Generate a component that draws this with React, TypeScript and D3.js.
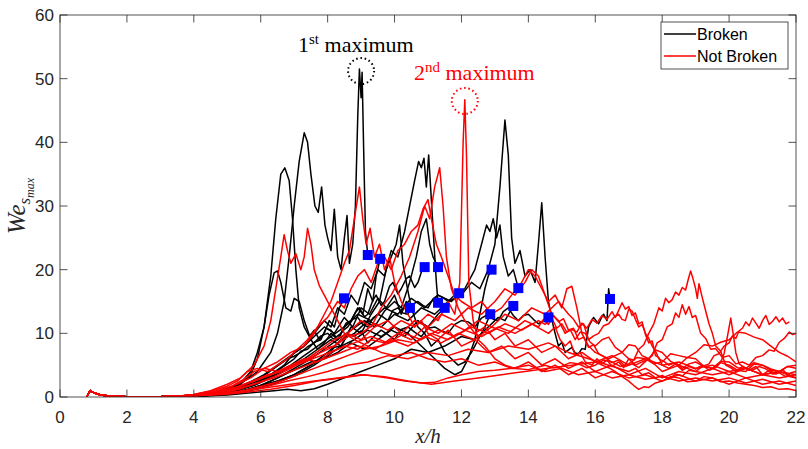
import * as d3 from "d3"

type Pt = [number, number]

// axis ticks
const xTicks = [0, 2, 4, 6, 8, 10, 12, 14, 16, 18, 20, 22]
const yTicks = [0, 10, 20, 30, 40, 50, 60]

// common start of every run (small bump at the inlet)
const lead: Pt[] = [[0.8, 0], [0.9, 1.0], [1.0, 0.7], [1.2, 0.35], [1.5, 0.1], [2.0, 0.02], [3.0, 0.05], [3.6, 0.15]]

// ---- Broken runs (end where the drop breaks) ----
const b01: Pt[] = [[4.0, 0.3], [4.5, 0.6], [5.0, 1.2], [5.4, 2.0], [5.7, 3.5], [5.9, 6], [6.1, 11], [6.3, 19], [6.45, 28], [6.6, 35], [6.72, 36], [6.85, 34], [6.95, 28], [7.05, 20], [7.15, 14], [7.3, 11], [7.45, 9.5], [7.6, 10.5], [7.75, 9], [7.9, 10], [8.05, 12], [8.2, 11], [8.35, 14], [8.49, 15.5]]
const b02: Pt[] = [[4.0, 0.3], [4.6, 0.8], [5.2, 1.6], [5.6, 2.8], [5.9, 4], [6.1, 5.5], [6.3, 7], [6.5, 10], [6.7, 15], [6.85, 22], [7.0, 30], [7.15, 37], [7.3, 41.5], [7.4, 40], [7.5, 35], [7.62, 30], [7.72, 29], [7.82, 33], [7.92, 27], [8.0, 25], [8.1, 23], [8.2, 29.5], [8.3, 22], [8.4, 20], [8.5, 25], [8.58, 28.5], [8.65, 21], [8.75, 24], [8.83, 30], [8.9, 44], [8.95, 51.5], [9.0, 47], [9.03, 51], [9.08, 38], [9.13, 26], [9.2, 22.3]]
const b03: Pt[] = [[4.0, 0.2], [4.5, 0.5], [5.0, 1.1], [5.4, 2.2], [5.7, 4], [5.9, 7], [6.1, 11], [6.25, 16], [6.4, 19.5], [6.5, 19.8], [6.6, 18], [6.75, 14], [6.9, 13.5], [7.0, 15.5], [7.15, 15], [7.3, 12], [7.5, 9], [7.7, 7.5], [7.9, 8.5], [8.1, 10], [8.3, 9], [8.5, 11], [8.7, 12], [8.9, 14], [9.05, 13], [9.2, 17], [9.35, 15], [9.45, 19], [9.57, 21.7]]
const b04: Pt[] = [[4.0, 0.2], [4.8, 0.6], [5.4, 1.5], [5.9, 2.5], [6.3, 3.5], [6.7, 5], [7.0, 7], [7.3, 8], [7.6, 10], [7.9, 12], [8.1, 11], [8.3, 14], [8.5, 13], [8.7, 16], [8.9, 14.5], [9.1, 18], [9.3, 17], [9.5, 20], [9.7, 19], [9.9, 23], [10.1, 22], [10.3, 26], [10.45, 30], [10.6, 34], [10.72, 37], [10.8, 36], [10.88, 37.5], [10.95, 33], [11.02, 38], [11.1, 31], [11.18, 24], [11.25, 18], [11.3, 14.8]]
const b05: Pt[] = [[4.0, 0.1], [4.8, 0.4], [5.5, 1.0], [6.0, 1.8], [6.5, 2.5], [7.0, 3.5], [7.5, 5], [8.0, 7], [8.4, 9], [8.8, 10], [9.2, 12], [9.6, 11], [10.0, 13], [10.4, 12], [10.8, 14], [11.2, 13], [11.6, 15], [12.0, 16], [12.3, 18], [12.55, 17], [12.8, 20], [13.0, 24], [13.15, 33], [13.3, 43.5], [13.4, 38], [13.5, 25], [13.6, 21], [13.75, 23], [13.9, 19], [14.05, 20], [14.2, 18], [14.3, 24], [14.4, 30.5], [14.5, 22], [14.6, 15], [14.75, 11], [14.9, 8], [15.0, 8.6], [15.1, 7], [15.2, 7.4], [15.3, 7.8], [15.4, 6.9], [15.5, 6.8], [15.6, 7.6], [15.7, 7.5], [15.8, 11], [15.95, 12.5], [16.05, 11.8], [16.1, 11.5], [16.2, 12.6], [16.25, 13], [16.35, 12], [16.4, 17], [16.44, 15.4]]
const b06: Pt[] = [[4.0, 0.2], [4.8, 0.5], [5.4, 1.2], [5.9, 2.2], [6.4, 3.5], [6.9, 5], [7.3, 6.5], [7.7, 8], [8.1, 9.5], [8.5, 11], [8.9, 13], [9.3, 12], [9.7, 14], [10.1, 13], [10.5, 15.5], [10.9, 14], [11.3, 16], [11.7, 15], [12.1, 17], [12.4, 20], [12.6, 24], [12.75, 27], [12.85, 26], [12.95, 28], [13.05, 25], [13.15, 27], [13.25, 22], [13.4, 19], [13.55, 20], [13.7, 17.1]]
const b07: Pt[] = [[4.0, 0.2], [4.7, 0.5], [5.3, 1.0], [5.8, 1.8], [6.3, 3], [6.8, 4.5], [7.3, 6], [7.7, 7.5], [8.1, 9], [8.4, 8], [8.7, 11], [9.0, 10], [9.3, 13], [9.55, 15], [9.75, 20], [9.9, 22], [10.05, 24], [10.15, 27], [10.25, 21], [10.35, 18], [10.5, 14], [10.7, 11], [10.9, 10], [11.1, 8], [11.3, 9], [11.5, 7], [11.7, 6], [11.9, 5], [12.1, 5.5], [12.3, 7], [12.5, 9], [12.7, 11], [12.86, 13]]
const b08: Pt[] = [[4.0, 0.1], [4.8, 0.3], [5.5, 0.8], [6.1, 1.5], [6.6, 2.5], [7.1, 3.5], [7.6, 5], [8.0, 6.5], [8.2, 7.8], [8.4, 8], [8.6, 9.8], [8.8, 9.5], [9.0, 10.4], [9.2, 8.5], [9.4, 9.6], [9.6, 10.5], [9.8, 9.8], [10.0, 9], [10.2, 10.6], [10.4, 11], [10.6, 10.2], [10.8, 9.5], [11.0, 10.8], [11.2, 11], [11.4, 10.4], [11.6, 10], [11.8, 11.4], [12.0, 12], [12.2, 11.8], [12.4, 11], [12.6, 12.4], [12.8, 13], [12.95, 12.2], [13.1, 12], [13.25, 13.4], [13.4, 14], [13.55, 12.8], [13.7, 12], [13.85, 12.8], [14.0, 13], [14.15, 12.2], [14.3, 11.5], [14.45, 12], [14.6, 12.5]]
const b09: Pt[] = [[4.0, 0.2], [4.6, 0.6], [5.2, 1.3], [5.7, 2.4], [6.1, 3.5], [6.5, 5], [6.9, 6.5], [7.3, 8], [7.6, 9.5], [7.9, 11], [8.2, 10], [8.5, 12.5], [8.75, 11], [9.0, 14], [9.25, 13], [9.5, 15.5], [9.75, 14], [10.0, 16], [10.2, 13], [10.35, 15], [10.46, 14.0]]
const b10: Pt[] = [[4.0, 0.2], [4.7, 0.5], [5.3, 1.1], [5.8, 2], [6.2, 3.2], [6.6, 4.5], [7.0, 6], [7.2, 7.2], [7.4, 7.5], [7.6, 8.6], [7.8, 9], [7.95, 10.8], [8.1, 10.5], [8.25, 9.4], [8.4, 10], [8.55, 11.6], [8.7, 12], [8.85, 13.4], [8.95, 14], [9.1, 12.6], [9.2, 13], [9.35, 15.2], [9.45, 16], [9.6, 14.4], [9.7, 15], [9.85, 17.4], [9.95, 18], [10.1, 16.2], [10.2, 17], [10.35, 18.6], [10.45, 19], [10.6, 17.2], [10.7, 18], [10.8, 19.6], [10.9, 20.4]]
const b11: Pt[] = [[4.0, 0.2], [4.9, 0.5], [5.5, 1.0], [6.0, 1.8], [6.5, 3], [7.0, 4.5], [7.5, 6], [7.9, 7.5], [8.3, 9], [8.7, 10.5], [9.1, 12], [9.4, 11], [9.7, 13.5], [10.0, 15], [10.2, 14], [10.45, 18], [10.65, 22], [10.8, 26], [10.95, 28], [11.05, 24], [11.15, 22], [11.3, 20.4]]
const b12: Pt[] = [[4.0, 0.1], [4.8, 0.4], [5.4, 0.9], [5.9, 1.6], [6.3, 2.5], [6.7, 3.5], [7.1, 4.5], [7.5, 5.5], [7.9, 6], [8.3, 7], [8.7, 8.5], [9.1, 7.5], [9.5, 9], [9.9, 10.5], [10.3, 9.5], [10.7, 12], [11.0, 11], [11.3, 13], [11.5, 14]]
const b13: Pt[] = [[4.0, 0.2], [4.6, 0.5], [5.1, 1.0], [5.6, 2], [6.0, 3], [6.4, 4.5], [6.8, 6], [7.0, 6.4], [7.2, 7], [7.4, 7.9], [7.6, 8.5], [7.8, 9.6], [8.0, 10], [8.15, 9.2], [8.3, 9], [8.45, 10.4], [8.6, 11], [8.75, 12.2], [8.9, 12.5], [9.05, 11.4], [9.2, 11], [9.35, 12.4], [9.5, 13], [9.65, 12.6], [9.8, 12], [9.95, 13.6], [10.1, 14], [10.25, 13.2], [10.4, 13], [10.55, 14.6], [10.7, 15], [10.85, 14.4], [11.0, 14], [11.15, 15.4], [11.3, 16], [11.45, 15.6], [11.6, 15], [11.75, 15.8], [11.93, 16.3]]
const b14: Pt[] = [[4.0, 0.1], [4.8, 0.4], [5.4, 0.9], [6.0, 1.5], [6.5, 2.5], [7.0, 3.5], [7.5, 5], [8.0, 6.5], [8.4, 8], [8.8, 9], [9.2, 10.5], [9.6, 9.5], [10.0, 11], [10.4, 10], [10.8, 8], [11.2, 6], [11.5, 4.5], [11.8, 3.5], [12.0, 4], [12.2, 6], [12.4, 9], [12.55, 13], [12.7, 17], [12.8, 19], [12.9, 20]]
const b15: Pt[] = [[4.0, 0.1], [5.0, 0.3], [5.8, 0.7], [6.4, 1.0], [6.8, 1.2], [7.2, 1.0], [7.6, 1.3], [8.0, 2], [8.5, 3], [9.0, 4], [9.5, 5], [10.0, 6], [10.5, 7.5], [11.0, 7], [11.5, 8], [12.0, 9.5], [12.4, 9], [12.8, 11], [13.1, 12.5], [13.3, 12], [13.55, 14.3]]

// ---- Not broken runs ----
const r01: Pt[] = [[4.0, 0.4], [4.5, 1.0], [5.0, 2.0], [5.4, 3], [5.8, 5], [6.1, 8], [6.3, 12], [6.45, 17], [6.6, 22], [6.7, 25.5], [6.8, 23], [6.9, 21], [7.05, 22.5], [7.2, 20], [7.3, 22], [7.4, 26.5], [7.5, 24], [7.6, 20], [7.75, 17.5], [7.9, 16], [8.1, 14], [8.3, 12], [8.5, 10], [8.8, 9], [9.2, 8], [9.6, 7], [10.0, 6.5], [10.5, 7], [11.0, 6], [11.5, 5.5], [12.0, 6], [12.5, 5], [13.0, 5.5], [13.5, 4.5], [14.0, 5], [14.5, 4], [15.0, 4.5], [15.5, 3.5], [16.0, 4], [16.5, 3], [17.0, 3.5], [17.5, 2.8], [18.0, 3.2], [18.5, 2.5], [19.0, 3], [19.5, 2.5], [20.0, 3], [20.5, 2.2], [21.0, 2.8], [21.5, 2], [22.0, 2.5]]
const r02: Pt[] = [[4.0, 0.3], [4.6, 0.8], [5.2, 1.8], [5.7, 3], [6.1, 4.5], [6.5, 5.5], [6.9, 7], [7.3, 8], [7.6, 10], [7.9, 13], [8.1, 15], [8.3, 18], [8.5, 21], [8.65, 23], [8.8, 28], [8.95, 33], [9.05, 28], [9.15, 24], [9.27, 26.5], [9.4, 22], [9.55, 24], [9.7, 20], [9.85, 22], [10.0, 18], [10.2, 15], [10.4, 13], [10.6, 11], [10.8, 12], [11.0, 10], [11.3, 9], [11.6, 10.5], [12.0, 8], [12.4, 9], [12.8, 7], [13.2, 8], [13.6, 6], [14.0, 7], [14.4, 5], [14.8, 6], [15.2, 4.5], [15.6, 5.5], [16.0, 4], [16.5, 5], [17.0, 3.5], [17.5, 4.5], [18.0, 3], [18.5, 4], [19.0, 3.5], [19.5, 4.5], [20.0, 3.5], [20.5, 4.5], [21.0, 3.5], [21.5, 4], [22.0, 3]]
const r03: Pt[] = [[4.0, 0.3], [4.7, 0.7], [5.3, 1.5], [5.8, 2.5], [6.3, 3.5], [6.8, 4.5], [7.3, 5.5], [7.8, 7], [8.2, 8], [8.6, 10], [9.0, 12], [9.3, 11], [9.6, 14], [9.9, 16], [10.2, 19], [10.45, 22], [10.7, 26], [10.9, 30], [11.05, 28], [11.2, 33], [11.35, 36], [11.45, 30], [11.55, 22], [11.7, 17], [11.9, 14], [12.1, 12], [12.4, 10], [12.7, 11], [13.0, 9], [13.3, 10], [13.6, 8], [14.0, 9], [14.4, 7], [14.8, 8], [15.2, 6], [15.6, 7], [16.0, 5.5], [16.5, 6.5], [17.0, 5], [17.5, 6], [18.0, 5], [18.5, 5.5], [19.0, 4.5], [19.5, 5], [20.0, 4], [20.5, 4.5], [21.0, 3.5], [21.5, 4], [22.0, 3.5]]
const r04: Pt[] = [[4.0, 0.2], [4.8, 0.6], [5.4, 1.3], [5.9, 2.2], [6.4, 3.2], [6.9, 4.5], [7.4, 6], [7.8, 7.5], [8.2, 8], [8.6, 9.5], [9.0, 10], [9.4, 11.5], [9.8, 10.5], [10.2, 12], [10.6, 11], [11.0, 13], [11.3, 12], [11.6, 15], [11.8, 13], [11.95, 18], [12.05, 40], [12.1, 46.7], [12.15, 38], [12.22, 18], [12.35, 12], [12.5, 9], [12.7, 8], [13.0, 6], [13.3, 5], [13.6, 4.5], [14.0, 5.5], [14.4, 4], [14.8, 5], [15.2, 3.5], [15.6, 4.5], [16.0, 3], [16.5, 4], [17.0, 3], [17.5, 3.5], [18.0, 2.5], [18.5, 3.5], [19.0, 2.5], [19.5, 3], [20.0, 2], [20.5, 3], [21.0, 2], [21.5, 2.5], [22.0, 1.8]]
const r05: Pt[] = [[4.0, 0.4], [4.5, 0.9], [5.0, 1.7], [5.3, 2.5], [5.6, 4], [5.9, 4.5], [6.2, 4], [6.5, 5], [6.8, 6], [7.1, 7.5], [7.4, 9], [7.7, 11], [8.0, 12.5], [8.3, 15], [8.5, 14], [8.7, 17], [8.9, 19], [9.1, 20], [9.3, 18], [9.5, 21], [9.7, 22], [9.9, 20], [10.1, 23], [10.3, 24], [10.5, 26], [10.7, 27], [10.85, 29.5], [11.0, 31], [11.1, 28], [11.25, 24], [11.4, 22], [11.6, 19], [11.8, 16], [12.0, 15], [12.3, 14], [12.6, 15], [12.9, 13], [13.2, 14], [13.5, 16], [13.8, 18], [14.0, 20], [14.2, 19], [14.4, 17], [14.6, 15], [14.8, 16], [15.0, 14], [15.15, 17], [15.3, 17.4], [15.45, 14], [15.6, 10], [15.8, 8], [16.0, 7], [16.4, 6], [16.8, 7], [17.2, 5], [17.6, 6], [18.0, 4], [18.5, 5], [19.0, 4], [19.5, 3.5], [20.0, 4], [20.5, 3], [21.0, 3.5], [21.5, 3], [22.0, 3.5]]
const r06: Pt[] = [[4.0, 0.2], [4.8, 0.5], [5.5, 1.0], [6.1, 1.8], [6.6, 2.5], [7.1, 3.5], [7.6, 4.5], [8.1, 5.5], [8.6, 6.5], [9.1, 7.5], [9.6, 8], [10.1, 9], [10.6, 8.5], [11.1, 10], [11.6, 9], [12.1, 10.5], [12.6, 9.5], [13.1, 11], [13.6, 10], [14.1, 11.5], [14.6, 10], [14.8, 11], [14.95, 9], [15.1, 8], [15.25, 8.8], [15.4, 6.5], [15.55, 7], [15.7, 5.5], [15.9, 5], [16.05, 6], [16.2, 5.2], [16.35, 5.8], [16.5, 4.8], [16.7, 5.5], [16.85, 4.6], [17.0, 6], [17.15, 5.8], [17.3, 7.5], [17.45, 8.2], [17.6, 10], [17.75, 11.5], [17.9, 14], [18.0, 13.5], [18.1, 15.5], [18.2, 14.8], [18.3, 15.3], [18.4, 16.5], [18.5, 16], [18.6, 17.2], [18.7, 16.8], [18.78, 18.5], [18.85, 19.8], [18.92, 18.6], [19.0, 17], [19.05, 15.5], [19.1, 17.8], [19.18, 16], [19.3, 13.5], [19.4, 11.5], [19.5, 10], [19.6, 8], [19.75, 7.2], [19.9, 5], [20.05, 4.6], [20.2, 4], [20.4, 4.8], [20.6, 4.2], [20.8, 4.8], [21.0, 3.5], [21.2, 4.2], [21.4, 3.6], [21.6, 4.3], [21.8, 3.2], [22.0, 3]]
const r07: Pt[] = [[4.0, 0.3], [4.7, 0.7], [5.3, 1.3], [5.9, 2.2], [6.4, 3], [6.9, 4], [7.4, 5], [7.9, 6], [8.4, 7], [8.9, 8], [9.4, 7.5], [9.9, 9], [10.4, 8], [10.9, 9.5], [11.4, 8.5], [11.9, 10], [12.4, 9], [12.9, 11], [13.4, 10], [13.9, 12], [14.3, 11], [14.45, 12.2], [14.6, 11.4], [14.75, 12.8], [14.9, 11.8], [15.05, 12.3], [15.2, 10.5], [15.35, 10.8], [15.5, 9], [15.65, 9.4], [15.8, 7.8], [15.95, 8.2], [16.1, 6.8], [16.3, 6.2], [16.5, 5.4], [16.7, 5.8], [16.9, 4.8], [17.1, 5.2], [17.3, 4.6], [17.5, 5.6], [17.7, 6.5], [17.85, 8.5], [18.0, 9], [18.15, 11], [18.3, 11.5], [18.4, 13.2], [18.5, 12.5], [18.6, 14.5], [18.7, 13], [18.8, 14.2], [18.9, 12.5], [19.0, 12.8], [19.15, 10], [19.3, 9.2], [19.45, 7.5], [19.6, 7.6], [19.8, 6.2], [20.0, 6.5], [20.2, 5.2], [20.4, 5.5], [20.6, 5], [20.8, 6.2], [21.0, 6.5], [21.2, 7.4], [21.35, 7.2], [21.5, 8.6], [21.65, 9.2], [21.8, 10.2], [21.9, 9.8], [22.0, 10]]
const r08: Pt[] = [[4.0, 0.2], [4.9, 0.5], [5.6, 1.0], [6.2, 1.7], [6.8, 2.5], [7.4, 3.2], [8.0, 4], [8.6, 5], [9.2, 5.5], [9.8, 6.5], [10.4, 6], [11.0, 7], [11.6, 6.5], [12.2, 7.5], [12.8, 7], [13.4, 8], [14.0, 7.5], [14.6, 8.5], [15.2, 7], [15.8, 6], [16.4, 5], [17.0, 4], [17.2, 4.5], [17.4, 3.5], [17.6, 3.8], [17.8, 3.0], [18.0, 3.4], [18.2, 2.8], [18.4, 3.6], [18.6, 3.3], [18.8, 4.2], [19.0, 4], [19.2, 4.8], [19.4, 5.2], [19.55, 6.5], [19.7, 6.8], [19.85, 8], [20.0, 8.5], [20.1, 9.6], [20.2, 9.2], [20.3, 10.4], [20.4, 10.8], [20.5, 11.8], [20.6, 11.2], [20.7, 12.4], [20.8, 11.6], [20.9, 10.8], [21.0, 12], [21.1, 12.8], [21.2, 11.4], [21.3, 11.9], [21.4, 12.6], [21.5, 11.8], [21.6, 12.4], [21.7, 11.5], [21.8, 11.8]]
const r09: Pt[] = [[4.0, 0.3], [4.6, 0.7], [5.2, 1.4], [5.8, 2.5], [6.3, 3.5], [6.8, 4.5], [7.3, 5.5], [7.8, 6.5], [8.3, 7.5], [8.8, 8.5], [9.3, 9.5], [9.8, 8.5], [10.3, 10], [10.8, 9], [11.3, 10.5], [11.8, 9.5], [12.3, 11], [12.8, 10], [13.3, 11.5], [13.8, 10.5], [14.3, 12], [14.5, 11.4], [14.7, 12.4], [14.85, 10.8], [15.0, 11.5], [15.15, 10.2], [15.3, 10.6], [15.45, 10.2], [15.6, 11.6], [15.75, 10.8], [15.9, 12.2], [16.05, 11.6], [16.2, 12.8], [16.35, 12.2], [16.5, 13.4], [16.6, 12.5], [16.7, 13.6], [16.8, 14.8], [16.9, 13.8], [17.0, 14.2], [17.1, 12.8], [17.2, 13.2], [17.3, 11.5], [17.4, 11.8], [17.5, 9.8], [17.6, 8.5], [17.7, 8.8], [17.8, 6.5], [17.9, 6.2], [18.0, 5], [18.2, 4.5], [18.4, 5.2], [18.6, 4.2], [18.8, 4.8], [19.0, 4.4], [19.2, 5], [19.4, 4.2], [19.6, 4.6], [19.75, 5.5], [19.85, 6.8], [19.95, 9.5], [20.05, 12.4], [20.12, 10], [20.2, 7], [20.3, 5.2], [20.5, 4.5], [20.7, 4.2], [20.9, 4.8], [21.1, 4.4], [21.3, 3.6], [21.5, 3.8], [21.7, 3.2], [21.85, 3.8], [22.0, 4]]
const r10: Pt[] = [[4.0, 0.2], [4.8, 0.5], [5.5, 1.0], [6.2, 1.5], [6.9, 2], [7.6, 2.5], [8.3, 3], [9.0, 3.5], [9.7, 3.2], [10.4, 2.5], [11.1, 2], [11.8, 2.5], [12.5, 3], [13.2, 3.5], [13.9, 4], [14.6, 4.5], [15.3, 5], [16.0, 5.5], [16.2, 5], [16.4, 4.6], [16.6, 4], [16.8, 3.2], [17.0, 2.5], [17.15, 1.8], [17.3, 1.2], [17.45, 1.6], [17.6, 1.5], [17.8, 2.2], [18.0, 2.5], [18.25, 3.2], [18.5, 3], [18.75, 2.4], [19.0, 2.5], [19.25, 3.2], [19.5, 3], [19.75, 2.4], [20.0, 2.5], [20.25, 2.2], [20.5, 2], [20.75, 1.8], [21.0, 1.5], [21.25, 1.6], [21.5, 1.2], [21.75, 1.3], [22.0, 1]]
const r11: Pt[] = [[4.0, 0.2], [4.9, 0.4], [5.6, 0.8], [6.3, 1.2], [7.0, 1.8], [7.7, 2.5], [8.4, 3], [9.1, 3.5], [9.8, 3], [10.3, 2.5], [10.8, 2.2], [11.2, 2.3], [11.6, 3], [12.0, 3.5], [12.5, 4], [13.0, 4.2], [13.5, 4.5], [14.0, 4.3], [14.5, 5], [14.75, 4.6], [15.0, 4.8], [15.25, 5.4], [15.5, 5.2], [15.75, 4.6], [16.0, 5], [16.25, 5.8], [16.5, 5.5], [16.75, 4.8], [17.0, 5.2], [17.25, 6.2], [17.5, 6], [17.75, 5.2], [18.0, 5.5], [18.25, 6.8], [18.5, 6.5], [18.75, 6.2], [19.0, 7], [19.25, 8.2], [19.5, 8], [19.75, 8.6], [20.0, 9], [20.25, 10.2], [20.5, 10], [20.75, 9.4], [21.0, 9], [21.25, 8], [21.5, 7], [21.75, 6.4], [22.0, 5.5]]
const r12: Pt[] = [[4.0, 0.3], [4.7, 0.8], [5.3, 1.6], [5.8, 2.6], [6.2, 3.5], [6.6, 4], [7.0, 5], [7.4, 6], [7.8, 7.5], [8.2, 9], [8.6, 10], [9.0, 9], [9.4, 11], [9.8, 12], [10.2, 10], [10.6, 12], [11.0, 11], [11.4, 13], [11.8, 12], [12.2, 14], [12.6, 13], [13.0, 15], [13.3, 17], [13.6, 16], [13.9, 18], [14.1, 20], [14.3, 19], [14.5, 16], [14.7, 13], [14.9, 12], [15.0, 11], [15.1, 10], [15.25, 10.6], [15.4, 9], [15.55, 10.2], [15.7, 10], [15.85, 8.6], [16.0, 8], [16.2, 9], [16.4, 9.4], [16.6, 7.8], [16.8, 7], [17.0, 8.2], [17.2, 8], [17.4, 6.5], [17.6, 6], [17.8, 7.4], [18.0, 7], [18.25, 5.6], [18.5, 5], [18.75, 6.2], [19.0, 6], [19.25, 4.8], [19.5, 4.5], [19.75, 5.4], [20.0, 5], [20.25, 4.2], [20.5, 4], [20.75, 5.2], [21.0, 5], [21.25, 4.4], [21.5, 4], [21.75, 4.8], [22.0, 5]]
const r13: Pt[] = [[4.0, 0.3], [4.6, 0.8], [5.1, 1.6], [5.5, 2.8], [5.8, 4], [6.1, 4.5], [6.5, 4], [6.9, 5], [7.3, 6], [7.7, 5.5], [8.1, 7], [8.5, 8], [8.9, 7.5], [9.3, 9], [9.7, 8.5], [10.1, 10], [10.5, 9], [10.9, 11], [11.3, 10], [11.7, 11.5], [12.1, 10.5], [12.5, 12], [12.9, 11], [13.3, 13], [13.7, 12], [14.1, 14], [14.5, 13], [14.9, 15], [15.2, 13], [15.35, 12.2], [15.5, 11], [15.65, 11.5], [15.8, 9], [15.95, 9.6], [16.1, 10], [16.25, 11.2], [16.4, 11.5], [16.55, 12.5], [16.7, 13], [16.8, 12.2], [16.9, 12], [17.0, 13.8], [17.1, 13.5], [17.2, 12.2], [17.3, 11], [17.4, 11.4], [17.5, 10], [17.6, 9.2], [17.7, 8], [17.8, 7.2], [17.9, 6], [18.05, 5.6], [18.2, 5], [18.4, 5.4], [18.6, 4.5], [18.8, 5.2], [19.0, 5.5], [19.25, 4.8], [19.5, 4.5], [19.75, 5.6], [20.0, 5.5], [20.25, 4.6], [20.5, 4.5], [20.75, 5.4], [21.0, 5], [21.25, 4.2], [21.5, 4], [21.75, 4.8], [22.0, 4.5]]

const brokenRuns = [b01, b02, b03, b04, b05, b06, b07, b08, b09, b10, b11, b12, b13, b14, b15]
const notBrokenRuns = [r01, r02, r03, r04, r05, r06, r07, r08, r09, r10, r11, r12, r13]

const W = 808
const H = 449
const L = 60, R = 796, T = 15, B = 397

const axisColor = "#262626"
const tickFont = "'Liberation Sans', Arial, sans-serif"
const serif = "'Liberation Serif', 'Times New Roman', serif"

export default function App() {
    const x = d3.scaleLinear().domain([0, 22]).range([L, R])
    const y = d3.scaleLinear().domain([0, 60]).range([B, T])

    const line = d3.line<Pt>()
        .x(d => x(d[0]))
        .y(d => y(d[1]))

    // peaks to mark
    const firstMax: Pt = [9.0, 51.2]
    const secondMax: Pt = [12.1, 46.5]

    return (
        <svg width={W} height={H} style={{ position: "absolute", left: 0, top: 0, background: "#fff" }}>
            <defs>
                <clipPath id="plot">
                    <rect x={L} y={T} width={R - L} height={B - T} />
                </clipPath>
            </defs>

            <g clipPath="url(#plot)" fill="none" strokeWidth={1.5} strokeLinejoin="round">
                {brokenRuns.map((run, i) => (
                    <path key={"b" + i} d={line(lead.concat(run)) || ""} stroke="#000" />
                ))}
                {notBrokenRuns.map((run, i) => (
                    <path key={"r" + i} d={line(lead.concat(run)) || ""} stroke="#ff0000" />
                ))}
                {brokenRuns.map((run, i) => {
                    const end = run[run.length - 1]
                    return <rect key={"s" + i} x={x(end[0]) - 5} y={y(end[1]) - 5} width={10} height={10} fill="#0000ff" />
                })}
            </g>

            {/* axes box */}
            <rect x={L} y={T} width={R - L} height={B - T} fill="none" stroke={axisColor} strokeWidth={0.8} />
            {xTicks.map(t => (
                <g key={"xt" + t}>
                    <line x1={x(t)} x2={x(t)} y1={B} y2={B - 7.5} stroke={axisColor} strokeWidth={0.8} />
                    <line x1={x(t)} x2={x(t)} y1={T} y2={T + 7.5} stroke={axisColor} strokeWidth={0.8} />
                    <text x={x(t)} y={B + 26} textAnchor="middle" fontFamily={tickFont} fontSize={17} fill={axisColor}>{t}</text>
                </g>
            ))}
            {yTicks.map(t => (
                <g key={"yt" + t}>
                    <line x1={L} x2={L + 7.5} y1={y(t)} y2={y(t)} stroke={axisColor} strokeWidth={0.8} />
                    <line x1={R} x2={R - 7.5} y1={y(t)} y2={y(t)} stroke={axisColor} strokeWidth={0.8} />
                    <text x={L - 6} y={y(t)} dy="0.36em" textAnchor="end" fontFamily={tickFont} fontSize={17} fill={axisColor}>{t}</text>
                </g>
            ))}

            {/* axis labels */}
            <text x={(L + R) / 2} y={443} textAnchor="middle" fontFamily={serif} fontStyle="italic" fontSize={21} fill={axisColor}>x/h</text>
            <text transform={`translate(25,${(T + B) / 2}) rotate(-90)`} textAnchor="middle" fontFamily={serif} fontStyle="italic" fill={axisColor}>
                <tspan fontSize={25}>We</tspan>
                <tspan fontSize={17} dy={5}>s</tspan>
                <tspan fontSize={12} dy={4}>max</tspan>
            </text>

            {/* peak annotations */}
            <circle cx={x(firstMax[0])} cy={y(firstMax[1])} r={13} fill="none" stroke="#000" strokeWidth={2} strokeDasharray="1.5,2.8" />
            <text x={298} y={52} fontFamily={serif} fontSize={22} fill="#000">
                1<tspan fontSize={15} dy={-8}>st</tspan><tspan dy={8}> maximum</tspan>
            </text>
            <circle cx={x(secondMax[0])} cy={y(secondMax[1])} r={13} fill="none" stroke="#ff0000" strokeWidth={2} strokeDasharray="1.5,2.8" />
            <text x={414} y={80} fontFamily={serif} fontSize={22} fill="#ff0000">
                2<tspan fontSize={15} dy={-8}>nd</tspan><tspan dy={8}> maximum</tspan>
            </text>

            {/* legend */}
            <g>
                <rect x={661} y={22} width={127} height={47} fill="#fff" stroke={axisColor} strokeWidth={0.8} />
                <line x1={664} x2={696} y1={34} y2={34} stroke="#000" strokeWidth={1.5} />
                <text x={697} y={34} dy="0.35em" fontFamily={tickFont} fontSize={16} fill="#000">Broken</text>
                <line x1={664} x2={696} y1={56} y2={56} stroke="#ff0000" strokeWidth={1.5} />
                <text x={697} y={56} dy="0.35em" fontFamily={tickFont} fontSize={16} fill="#000">Not Broken</text>
            </g>
        </svg>
    )
}
